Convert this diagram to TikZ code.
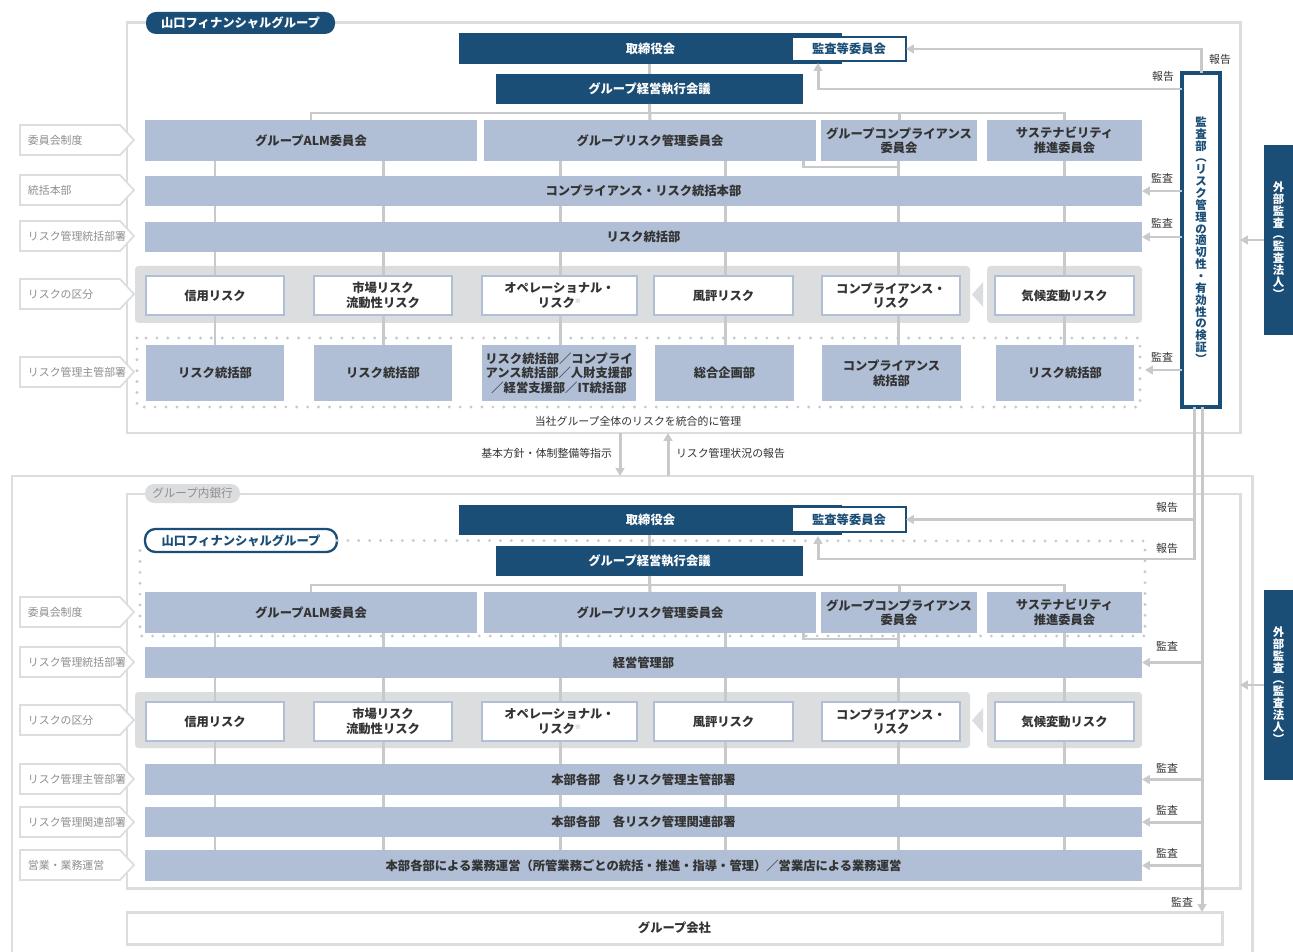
\documentclass[tikz,border=0pt]{standalone}
\usepackage{fontspec}
\setmainfont{Noto Sans CJK JP}
\usetikzlibrary{arrows.meta}
\definecolor{rmNavy}{HTML}{1B4E76}
\definecolor{rmSteel}{HTML}{B0BFD6}
\definecolor{rmLine}{HTML}{C8C9CB}
\definecolor{rmPale}{HTML}{DCDDDF}
\definecolor{rmInk}{HTML}{333333}
\definecolor{rmTag}{HTML}{8E8E8E}
\tikzset{
  risk chart/.style={
    x=0.02cm, y=-0.02cm,
    >={Triangle[length=4.5pt,width=5pt]},
    every node/.style={font=\fontsize{7}{8.3}\selectfont\bfseries,
      text=rmInk, inner sep=0pt, outer sep=0pt, align=center}
  },
  rm navy/.style={fill=rmNavy, text=white},
  rm bar/.style={fill=rmSteel},
  rm cat/.style={fill=white, draw=rmSteel, line width=1.6pt},
  rm frame/.style={draw=rmPale, line width=1.7pt},
  rm pill/.style={fill=rmNavy, text=white, rounded corners=0.2cm},
  rm pill line/.style={fill=white, draw=rmNavy, line width=1.3pt, text=rmNavy, rounded corners=0.21cm},
  rm pill gray/.style={fill=rmPale, text=rmTag, rounded corners=0.18cm,
    font=\fontsize{6.6}{7}\selectfont},
  rm audit com/.style={fill=white, draw=rmNavy, line width=1.5pt, text=rmNavy},
  rm audit/.style={fill=white, draw=rmNavy, line width=1.8pt, text=rmNavy},
  rm tate/.style={font=\fontsize{6.5}{6.75}\selectfont\bfseries},
  rm link/.style={draw=rmLine, line width=1.7pt},
  rm arrow/.style={draw=rmLine, line width=1.7pt, ->},
  rm dots/.style={draw=rmLine, line width=1.8pt, line cap=round, dash pattern=on 0pt off 6.2pt},
  rm note/.style={font=\fontsize{6.2}{7}\selectfont, text=rmInk},
  rm tag/.style={fill=white, draw=rmPale, line width=1pt},
  rm tag text/.style={font=\fontsize{6.2}{7}\selectfont, text=rmTag, anchor=west}
}
% box from corner (x1,y1) to (x2,y2), in pixels of the chart
\newcommand{\RiskBox}[7]{%
  \node[#1, minimum width={(#5-#3)*0.02cm}, minimum height={(#6-#4)*0.02cm}]
    (#2) at ({(#3+#5)/2},{(#4+#6)/2}) {#7};}
\newcommand{\RowTag}[3]{%
  \draw[rm tag] (20,#2-15) -- (120,#2-15) -- (134,#2) -- (120,#2+15) -- (20,#2+15) -- cycle;
  \node[rm tag text] (#1) at (28,#2) {#3};}
\newcommand{\Kome}{\raisebox{2.2pt}{\fontsize{3.5}{4}\selectfont\textcolor{rmTag}{※}}}

\begin{document}
\begin{tikzpicture}[risk chart]
  \fill[white] (0,0) rectangle (1293,952);
  \useasboundingbox (0,0) rectangle (1293,952);

  % upper part: the group
  \RiskBox{rm frame}{fg1}{127}{23}{1240}{433}{}
  \RiskBox{rm pill}{pill1}{146}{12}{335}{34}{山口フィナンシャルグループ}
  \fill[rmPale, rounded corners=2pt] (135,266) rectangle (970,323);
  \fill[rmPale, rounded corners=2pt] (987,266) rectangle (1142,323);
  \fill[rmPale] (983,282) -- (972,294.5) -- (983,307) -- cycle;
  \draw[rm dots] (137,338) rectangle (1140,407);
  \foreach \cx in {215,383,560,725,898,1064}
    \draw[rm link] (\cx,161) -- (\cx,345);
  \draw[rm link] (803,161) |- (899,167);

  \RiskBox{rm navy}{board1}{459}{33}{842}{64}{取締役会}
  \RiskBox{rm audit com}{ac1}{792}{37}{906}{61}{監査等委員会}
  \RiskBox{rm navy}{exec1}{496}{74}{803}{104}{グループ経営執行会議}
  \RiskBox{rm bar}{alm1}{145}{120}{477}{161}{グループALM委員会}
  \RiskBox{rm bar}{risk1}{484}{120}{816}{161}{グループリスク管理委員会}
  \RiskBox{rm bar}{cmp1}{821}{120}{977}{161}{グループコンプライアンス\\委員会}
  \RiskBox{rm bar}{sus1}{987}{120}{1142}{161}{サステナビリティ\\推進委員会}
  \RiskBox{rm bar}{ctl1}{145}{176}{1142}{206}{コンプライアンス・リスク統括本部}
  \RiskBox{rm bar}{rsk1}{145}{222}{1142}{252}{リスク統括部}
  \RiskBox{rm cat}{cat11}{146}{276}{284}{315}{信用リスク}
  \RiskBox{rm cat}{cat12}{314}{276}{452}{315}{市場リスク\\流動性リスク}
  \RiskBox{rm cat}{cat13}{482}{276}{637}{315}{オペレーショナル・\\リスク\Kome}
  \RiskBox{rm cat}{cat14}{654}{276}{793}{315}{風評リスク}
  \RiskBox{rm cat}{cat15}{822}{276}{960}{315}{コンプライアンス・\\リスク}
  \RiskBox{rm cat}{cat16}{995}{276}{1134}{315}{気候変動リスク}
  \RiskBox{rm bar}{dep11}{146}{345}{284}{401}{リスク統括部}
  \RiskBox{rm bar}{dep12}{314}{345}{452}{401}{リスク統括部}
  \RiskBox{rm bar}{dep13}{482}{345}{636}{401}{リスク統括部／コンプライ\\アンス統括部／人財支援部\\／経営支援部／IT統括部}
  \RiskBox{rm bar}{dep14}{655}{345}{794}{401}{総合企画部}
  \RiskBox{rm bar}{dep15}{822}{345}{961}{401}{コンプライアンス\\統括部}
  \RiskBox{rm bar}{dep16}{996}{345}{1134}{401}{リスク統括部}
  \node[rm note] (whole1) at (638,421) {当社グループ全体のリスクを統合的に管理};

  \draw[rm link] (exec1.north) -- (exec1.north |- board1.south);
  \coordinate (hub1) at (650,113);
  \draw[rm link] (exec1.south) -- (risk1.north);
  \draw[rm link] (alm1.north) |- (hub1) -| (sus1.north);
  \draw[rm link] (cmp1.north) -- (cmp1.north |- hub1);

  \RowTag{tag11}{140}{委員会制度}
  \RowTag{tag12}{190}{統括本部}
  \RowTag{tag13}{236}{リスク管理統括部署}
  \RowTag{tag14}{294}{リスクの区分}
  \RowTag{tag15}{372}{リスク管理主管部署}

  % internal audit
  \RiskBox{rm audit,rm tate}{aud1}{1182}{73}{1220}{407}{監\\査\\部\\︵\\リ\\ス\\ク\\管\\理\\の\\適\\切\\性\\・\\有\\効\\性\\の\\検\\証\\︶}
  \draw[rm arrow] (aud1.north) |- (ac1.east);
  \coordinate (rp1) at (1182,89);
  \coordinate (rq1) at (818,63);
  \draw[rm arrow] (rp1) -| (rq1);
  \draw[rm arrow] (aud1.west |- ctl1.east) -- (ctl1.east);
  \draw[rm arrow] (aud1.west |- rsk1.east) -- (rsk1.east);
  \coordinate (dq1) at (1145,370);
  \draw[rm arrow] (aud1.west |- dq1) -- (dq1);
  \node[rm note] (rep11) at (1220,59) {報告};
  \node[rm note] (rep12) at (1163,76) {報告};
  \node[rm note] (aud11) at (1162,178) {監査};
  \node[rm note] (aud12) at (1162,223) {監査};
  \node[rm note] (aud13) at (1162,357) {監査};

  % external audit
  \RiskBox{rm navy,rm tate}{ext1}{1264}{145}{1293}{335}{外\\部\\監\\査\\︵\\監\\査\\法\\人\\︶}
  \draw[rm arrow] (ext1.west) -- (ext1.west -| fg1.east);

  % lower part: the bank
  \draw[rm frame] (12,952) -- (12,476) -- (1252,476) -- (1252,952);
  \coordinate (mid1) at (620,476);
  \coordinate (mid2) at (668,476);
  \draw[rm arrow] (fg1.south -| mid1) -- (mid1);
  \draw[rm arrow] (mid2) -- (fg1.south -| mid2);
  \node[rm note, anchor=east] (order1) at (612,453) {基本方針・体制整備等指示};
  \node[rm note, anchor=west] (report1) at (676,453) {リスク管理状況の報告};

  \RiskBox{rm frame}{bank}{127}{494}{1240}{888}{}
  \RiskBox{rm pill gray}{pill3}{145}{484}{240}{503}{グループ内銀行}
  \fill[rmPale, rounded corners=2pt] (135,692) rectangle (970,748);
  \fill[rmPale, rounded corners=2pt] (987,692) rectangle (1142,748);
  \fill[rmPale] (983,708) -- (972,720.5) -- (983,733) -- cycle;
  \foreach \cx in {215,383,560,725,898,1064}
    \draw[rm link] (\cx,633) -- (\cx,850);
  \draw[rm link] (803,633) |- (899,639);

  \RiskBox{rm pill line}{pill2}{145}{529}{337}{552}{山口フィナンシャルグループ}
  \draw[rm dots] (pill2.east) -- (1145,541) -- (1145,636) -- (140,636) -- (140,548);
  \RiskBox{rm navy}{board2}{459}{505}{842}{535}{取締役会}
  \RiskBox{rm audit com}{ac2}{792}{507}{906}{532}{監査等委員会}
  \RiskBox{rm navy}{exec2}{496}{546}{803}{576}{グループ経営執行会議}
  \RiskBox{rm bar}{alm2}{145}{592}{477}{633}{グループALM委員会}
  \RiskBox{rm bar}{risk2}{484}{592}{816}{633}{グループリスク管理委員会}
  \RiskBox{rm bar}{cmp2}{821}{592}{977}{633}{グループコンプライアンス\\委員会}
  \RiskBox{rm bar}{sus2}{987}{592}{1142}{633}{サステナビリティ\\推進委員会}
  \RiskBox{rm bar}{mgmt2}{145}{647}{1142}{678}{経営管理部}
  \RiskBox{rm cat}{cat21}{146}{702}{284}{741}{信用リスク}
  \RiskBox{rm cat}{cat22}{314}{702}{452}{741}{市場リスク\\流動性リスク}
  \RiskBox{rm cat}{cat23}{482}{702}{637}{741}{オペレーショナル・\\リスク\Kome}
  \RiskBox{rm cat}{cat24}{654}{702}{793}{741}{風評リスク}
  \RiskBox{rm cat}{cat25}{822}{702}{960}{741}{コンプライアンス・\\リスク}
  \RiskBox{rm cat}{cat26}{995}{702}{1134}{741}{気候変動リスク}
  \RiskBox{rm bar}{main2}{145}{764}{1142}{795}{本部各部　各リスク管理主管部署}
  \RiskBox{rm bar}{rel2}{145}{807}{1142}{837}{本部各部　各リスク管理関連部署}
  \RiskBox{rm bar}{ops2}{145}{850}{1142}{881}{本部各部による業務運営（所管業務ごとの統括・推進・指導・管理）／営業店による業務運営}
  \RiskBox{rm frame,fill=white}{grp}{127}{912}{1222}{944}{グループ会社}

  \draw[rm link] (exec2.north) -- (exec2.north |- board2.south);
  \coordinate (hub2) at (650,585);
  \draw[rm link] (exec2.south) -- (risk2.north);
  \draw[rm link] (alm2.north) |- (hub2) -| (sus2.north);
  \draw[rm link] (cmp2.north) -- (cmp2.north |- hub2);

  \RowTag{tag21}{612}{委員会制度}
  \RowTag{tag22}{662}{リスク管理統括部署}
  \RowTag{tag23}{720}{リスクの区分}
  \RowTag{tag24}{779}{リスク管理主管部署}
  \RowTag{tag25}{822}{リスク管理関連部署}
  \RowTag{tag26}{865}{営業・業務運営}

  % audit lines into the bank
  \coordinate (ra) at (1194,407);
  \coordinate (rb) at (1202,407);
  \coordinate (rq2) at (818,536);
  \draw[rm arrow] (ra) |- (ac2.east);
  \draw[rm arrow] (ra) -- (1194,559) -| (rq2);
  \draw[rm arrow] (rb) -- (rb |- grp.north);
  \draw[rm arrow] (rb |- mgmt2.east) -- (mgmt2.east);
  \draw[rm arrow] (rb |- main2.east) -- (main2.east);
  \draw[rm arrow] (rb |- rel2.east) -- (rel2.east);
  \draw[rm arrow] (rb |- ops2.east) -- (ops2.east);
  \node[rm note] (rep21) at (1167,507) {報告};
  \node[rm note] (rep22) at (1167,548) {報告};
  \node[rm note] (aud21) at (1167,646) {監査};
  \node[rm note] (aud22) at (1167,768) {監査};
  \node[rm note] (aud23) at (1167,810) {監査};
  \node[rm note] (aud24) at (1167,853) {監査};
  \node[rm note] (aud25) at (1182,902) {監査};

  \RiskBox{rm navy,rm tate}{ext2}{1264}{590}{1293}{780}{外\\部\\監\\査\\︵\\監\\査\\法\\人\\︶}
  \draw[rm arrow] (ext2.west) -- (ext2.west -| bank.east);
\end{tikzpicture}
\end{document}
